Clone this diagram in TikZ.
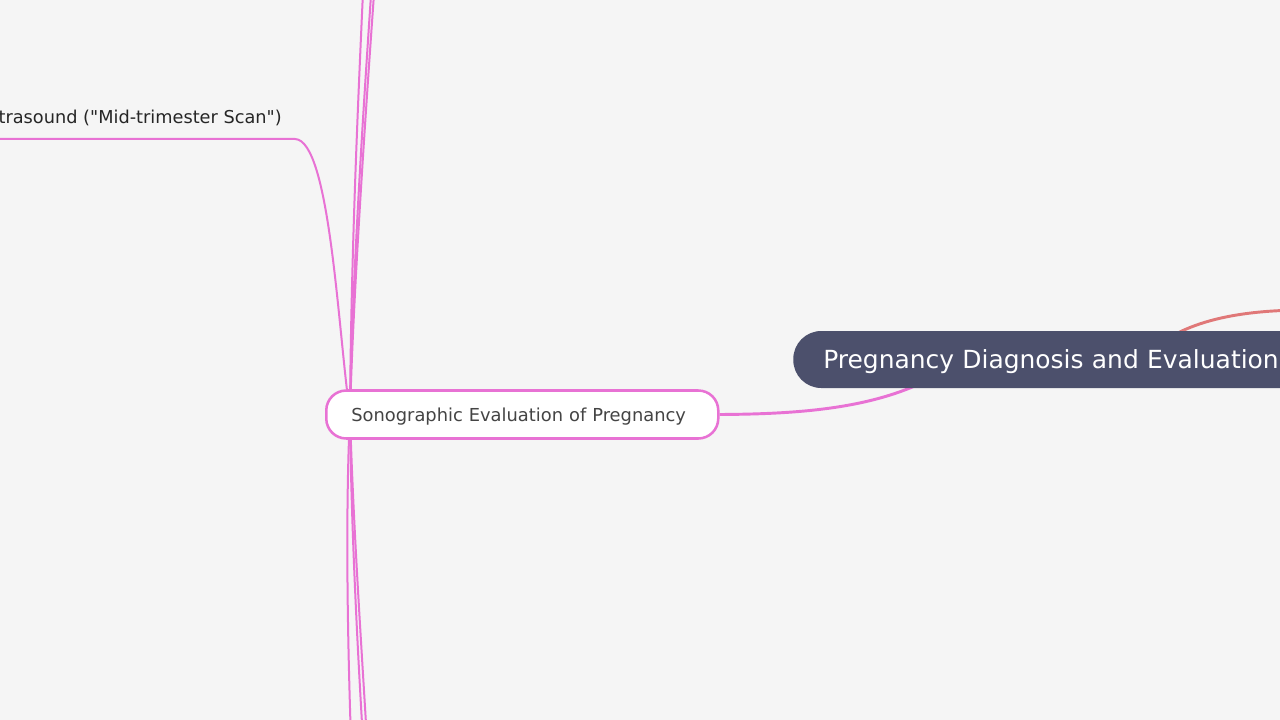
\documentclass[tikz,border=0pt]{standalone}
\usepackage{fontspec}
\setmainfont{DejaVu Sans}
\definecolor{bgc}{RGB}{245,245,245}
\definecolor{pinkc}{RGB}{232,114,212}
\definecolor{rootc}{RGB}{76,80,108}
\definecolor{redc}{RGB}{224,120,120}
\definecolor{sonotext}{RGB}{68,68,68}
\definecolor{lefttext}{RGB}{38,38,38}
\begin{document}
\begin{tikzpicture}[x=0.75pt,y=-0.75pt,
  thinconn/.style={draw=pinkc, line width=1.5pt},
  mainconn/.style={draw=pinkc, line width=2.2pt},
  redconn/.style={draw=redc, line width=2.2pt},
  sonobox/.style={draw=pinkc, line width=1.9pt, fill=white, rounded corners=15pt,
    anchor=west, inner xsep=18.75pt, inner ysep=0pt, minimum height=36pt,
    text width=256.5pt, align=left, text=sonotext,
    font=\fontsize{13.4}{16}\selectfont, text height=9.8pt, text depth=0pt},
  rootbox/.style={fill=rootc, rounded corners=21pt,
    anchor=west, inner xsep=22.5pt, inner ysep=0pt, minimum height=42.75pt,
    text width=360pt, align=left, text=white,
    font=\fontsize{18.7}{22}\selectfont, text height=13.65pt, text depth=0pt},
  leftlabel/.style={anchor=base east, inner sep=0pt, text=lefttext,
    font=\fontsize{13.3}{16}\selectfont}
]
\useasboundingbox (0,0) rectangle (1280,720);
\fill[bgc] (0,0) rectangle (1280,720);
\clip (0,0) rectangle (1280,720);

% hub and off-screen children
\coordinate (hub) at (350,414);
\coordinate (t1) at (364,-30);
\coordinate (t2) at (372,-20);
\coordinate (t3) at (375,-20);
\coordinate (b1) at (351,740);
\coordinate (b2) at (363,740);
\coordinate (b3) at (367,740);
\coordinate (leftend) at (-20,139);
\coordinate (leftknee) at (295,139);
\coordinate (rootin) at (960,360);
\coordinate (redstart) at (1140,360);
\coordinate (redend) at (1300,310);

% connectors
\draw[thinconn] (hub) .. controls (351,250) and (359,80) .. (t1);
\draw[thinconn] (hub) .. controls (352,280) and (364,100) .. (t2);
\draw[thinconn] (hub) .. controls (353,300) and (365,120) .. (t3);
\draw[thinconn] (hub) .. controls (345,520) and (348,650) .. (b1);
\draw[thinconn] (hub) .. controls (351,520) and (357,640) .. (b2);
\draw[thinconn] (hub) .. controls (353,520) and (361,640) .. (b3);
\draw[thinconn] (leftend) -- (leftknee) .. controls (330,140) and (338,330) .. (hub);

\node[leftlabel] (midscan) at (282,123.3) {trasound (\textquotedbl Mid-trimester Scan\textquotedbl)};

\node[sonobox] (sono) at (325,414.5) {Sonographic Evaluation of Pregnancy};

\draw[mainconn] (sono.east) .. controls (820,414) and (900,405) .. (rootin);
\draw[redconn] (redstart) .. controls (1175,325) and (1225,311) .. (redend);

\node[rootbox] (root) at (793,359.5) {Pregnancy Diagnosis and Evaluation};
\end{tikzpicture}
\end{document}
